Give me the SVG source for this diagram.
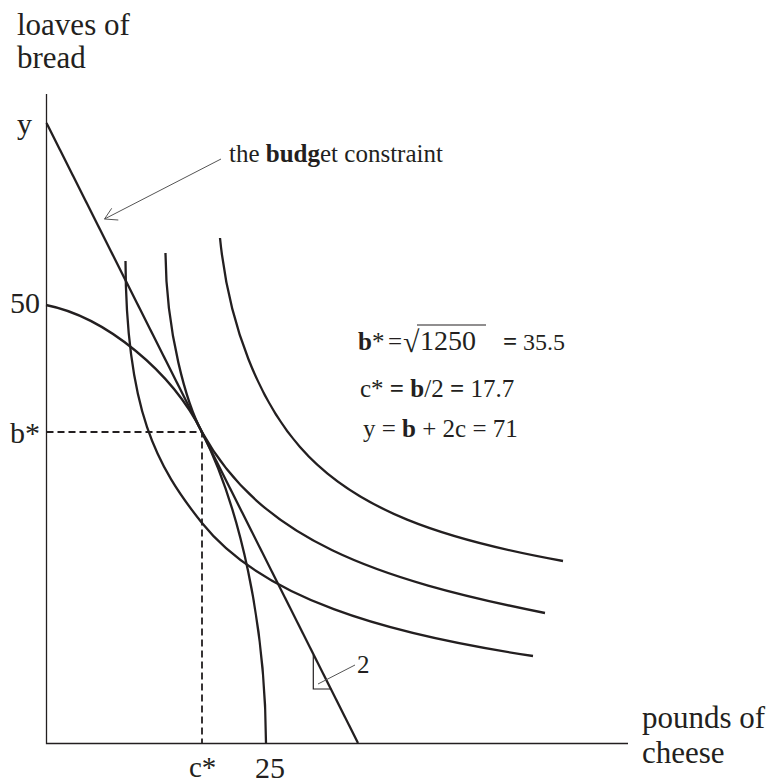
<svg xmlns="http://www.w3.org/2000/svg" width="771" height="783" viewBox="0 0 771 783" font-family="'Liberation Serif', 'Times New Roman', serif">
<style>
text{font-family:"Liberation Serif","Times New Roman",serif;fill:#231f20}
.lab{font-family:"Liberation Serif","Times New Roman",serif;font-size:30px}
.eq{font-family:"Liberation Serif","Times New Roman",serif;font-size:25px}
.b{font-weight:bold}
.curve{fill:none;stroke:#231f20;stroke-width:2.3}
.axis{fill:none;stroke:#231f20;stroke-width:1.3}
.dash{fill:none;stroke:#231f20;stroke-width:1.8;stroke-dasharray:7 4}
.lead{fill:none;stroke:#555;stroke-width:1}
.thin{fill:none;stroke:#231f20;stroke-width:1.2}
</style>
<rect width="771" height="783" fill="#fff"/>
<g id="axes">
<path class="axis" d="M46.5,94 V743.5 H628"/>
</g>
<g id="labels">
<text class="lab" x="17" y="35" style="font-size:31px">loaves of</text>
<text class="lab" x="17" y="68" style="font-size:31px">bread</text>
<text class="lab" x="17" y="134">y</text>
<text class="lab" x="10" y="313">50</text>
<text class="lab" x="10" y="443">b*</text>
<text class="lab" x="189" y="777" style="font-size:29px">c*</text>
<text class="lab" x="255" y="778">25</text>
<text class="lab" x="642" y="728" style="font-size:31px">pounds of</text>
<text class="lab" x="642" y="763" style="font-size:31px">cheese</text>
</g>
<g id="curves">
<path id="budget-line" class="curve" d="M46.5,123 L358,743"/>
<path id="ellipse" class="curve" d="M46,305 C106,317 172,372 202,432 C240,508 265.5,623 266,743"/>
<path id="ic1" class="curve" d="M125.5,261 C126,411 157,466.75 202,523 C262,598 383,633.5 533,656"/>
<path id="ic2" class="curve" d="M165.5,253 C166,333 187,405 202,432 C262,540 375,579 545,613"/>
<path id="ic3" class="curve" d="M220,238 C229,328 260,401 300,447 C355,510.25 443,539.4 563,561"/>
</g>
<g id="guides">
<path class="dash" d="M46.5,432 H202 V743"/>
</g>
<g id="connectors">
<path class="lead" d="M221,159 L104.5,219"/>
<path class="lead" d="M111.7,208.3 L104.5,219 L118.3,220"/>
<path class="lead" d="M318,684 L355,665"/>
<path class="thin" d="M313.3,655 V689 H331.5"/>
</g>
<g id="annotation-budget">
<text class="eq" x="229" y="162">the <tspan class="b">budg</tspan>et constraint</text>
</g>
<g id="annotation-slope">
<text class="eq" x="357" y="673">2</text>
</g>
<g id="equations">
<text class="eq" x="358" y="350"><tspan class="b">b</tspan>*</text>
<text class="eq" x="388" y="350">=</text>
<text class="eq" x="403" y="352" style="font-size:30px">√</text>
<path class="thin" d="M417,325 H486"/>
<text class="eq" x="420" y="350" style="font-size:28px">1250</text>
<text class="eq b" x="503" y="350">=</text>
<text class="eq" x="523" y="350" style="font-size:24px">35.5</text>
<text class="eq" x="360" y="397">c* <tspan class="b">=</tspan> <tspan class="b">b</tspan>/2 <tspan class="b">=</tspan> 17.7</text>
<text class="eq" x="363" y="437">y = <tspan class="b">b</tspan> + 2c = 71</text>
</g>
</svg>
